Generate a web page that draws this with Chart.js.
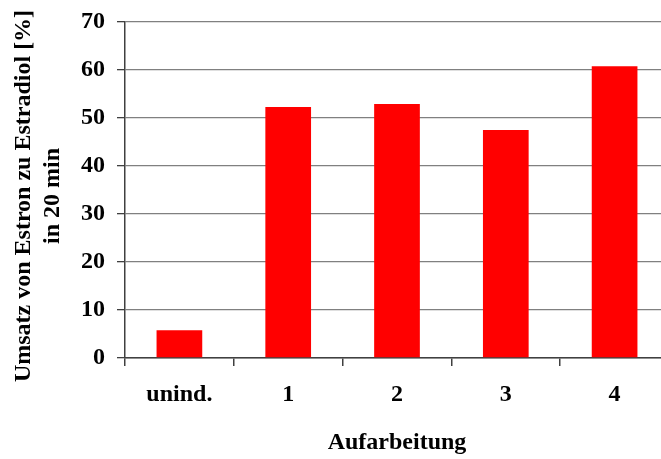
<!DOCTYPE html>
<html>
<head>
<meta charset="utf-8">
<script src="https://cdn.jsdelivr.net/npm/chart.js@4/dist/chart.umd.min.js"></script>
<style>
html,body{margin:0;padding:0;overflow:hidden;background:#fff;width:661px;height:459px;}
canvas{display:block;}
</style>
</head>
<body>
<canvas id="c" width="670" height="459"></canvas>
<script>
const categories = ["unind.", "1", "2", "3", "4"];
const conversion = [5.8, 52.3, 52.9, 47.5, 60.8];
const yTicks = [0, 10, 20, 30, 40, 50, 60, 70];
const yTitle = ["Umsatz von Estron zu Estradiol [%]  ", "in 20 min  "];
const xTitle = "Aufarbeitung";

const fontFamily = "'Liberation Serif', 'Times New Roman', serif";

new Chart(document.getElementById('c'), {
  type: 'bar',
  data: {
    labels: categories,
    datasets: [{
      data: conversion,
      backgroundColor: '#ff0000',
      borderWidth: 0,
      barPercentage: 0.42,
      categoryPercentage: 1.0
    }]
  },
  options: {
    responsive: false,
    animation: false,
    devicePixelRatio: 1,
    layout: { padding: { top: 22, right: 1, left: 0, bottom: 0 } },
    plugins: { legend: { display: false }, tooltip: { enabled: false } },
    scales: {
      x: {
        offset: true,
        grid: { offset: true, drawOnChartArea: false, drawTicks: true, tickLength: 8, color: '#404040', lineWidth: 1.5 },
        border: { display: true, color: '#404040', width: 1.5 },
        ticks: { color: '#000', padding: 14, font: { family: fontFamily, size: 24, weight: 'bold' } },
        title: { display: true, text: xTitle, color: '#000', padding: { top: 0, bottom: 2 },
                 font: { family: fontFamily, size: 24, weight: 'bold', lineHeight: 1.2 } },
        afterFit: (s) => { s.height = 101; s.paddingLeft = 0; s.paddingRight = 0; }
      },
      y: {
        min: 0, max: 70,
        afterBuildTicks: (s) => { s.ticks = yTicks.map(v => ({ value: v })); },
        grid: { color: '#808080', lineWidth: 1.3, tickColor: '#404040', tickLength: 8, drawTicks: true },
        border: { display: true, color: '#404040', width: 1.5 },
        ticks: { color: '#000', padding: 12, font: { family: fontFamily, size: 24, weight: 'bold' } },
        title: { display: true, text: yTitle, color: '#000', padding: { top: 9, bottom: 0 },
                 font: { family: fontFamily, size: 24, weight: 'bold', lineHeight: 1.21 } },
        afterFit: (s) => { s.width = 125; s.paddingTop = 0; s.paddingBottom = 0; }
      }
    }
  }
});
</script>
</body>
</html>
